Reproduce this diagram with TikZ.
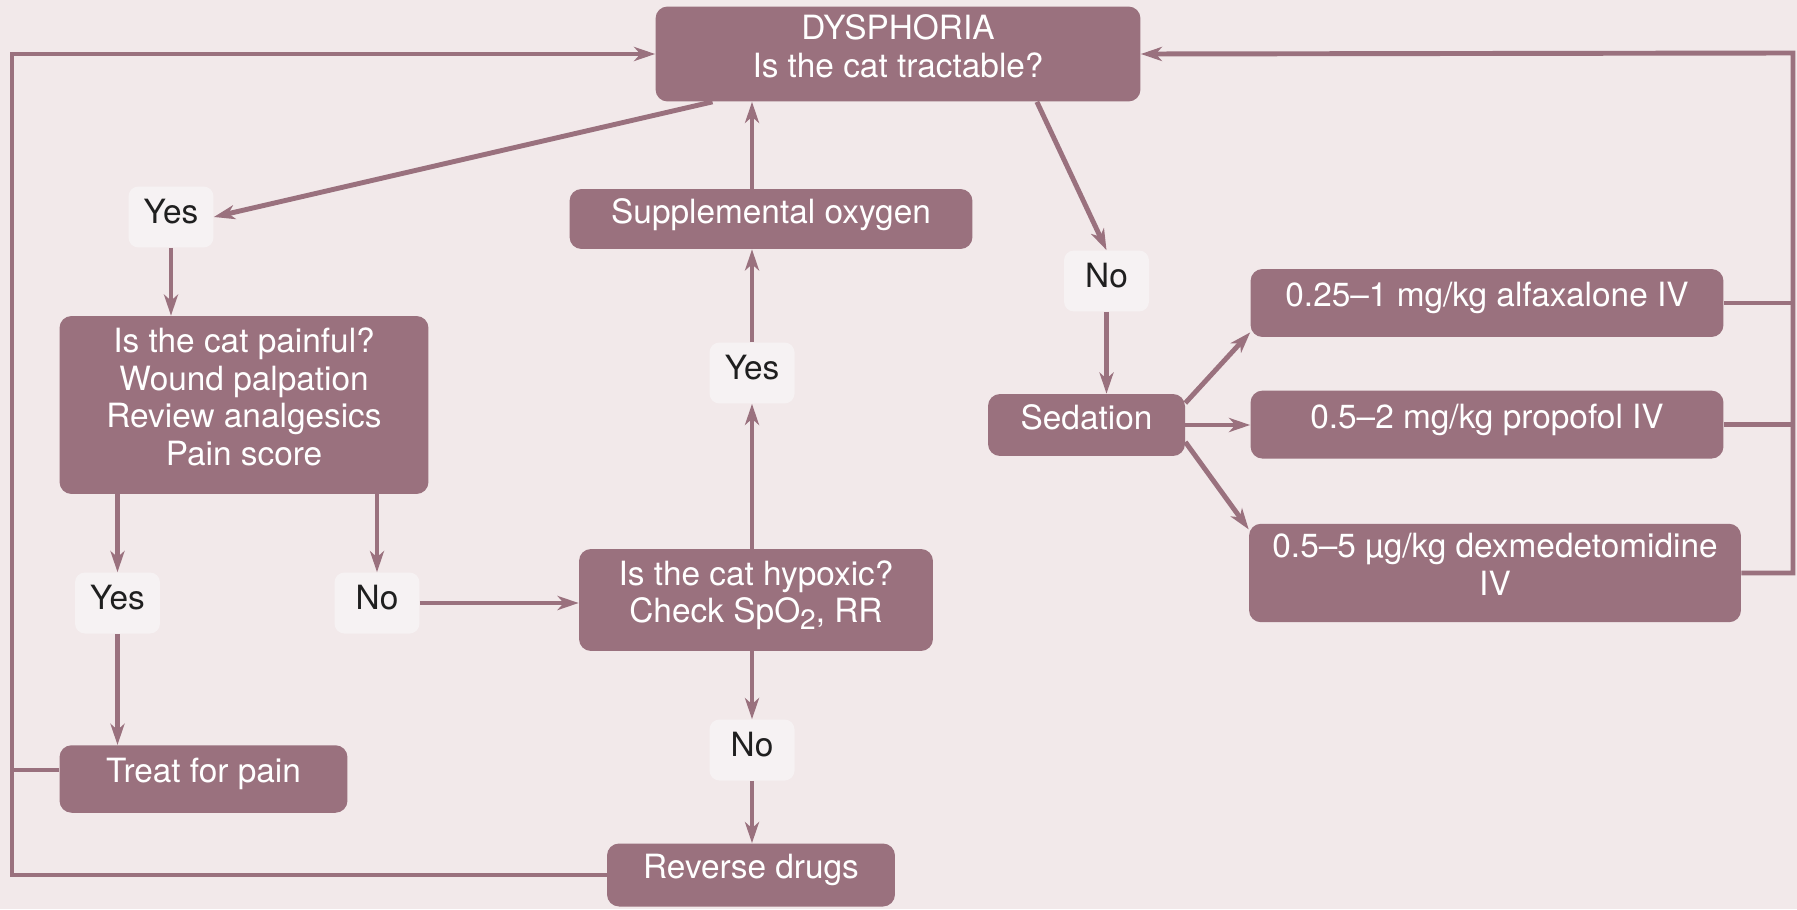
\documentclass[tikz,border=0pt]{standalone}
\usepackage{fontspec}
\setmainfont{TeX Gyre Heros}
\usetikzlibrary{arrows.meta,calc}
\definecolor{mauve}{HTML}{9A717E}
\definecolor{blush}{HTML}{F2E9EA}
\definecolor{chalk}{HTML}{F6F2F3}

\begin{document}
\begin{tikzpicture}[x=0.02cm,y=-0.02cm,
  box/.style={fill=mauve,text=white,rounded corners=0.24cm,align=center,
    inner sep=0pt,text depth=9.5pt,font=\fontsize{19}{21.5}\selectfont},
  ans/.style={fill=chalk,text=black!88,rounded corners=0.2cm,minimum width=1.7cm,
    minimum height=1.22cm,inner sep=0pt,text depth=6pt,font=\fontsize{19}{21.5}\selectfont},
  link/.style={draw=mauve,line width=2.8pt},
  arr/.style={link,-{Stealth[length=12pt,width=8pt,inset=3.5pt]}}]

\newcommand\SubTwo{\raisebox{-0.4ex}{\fontsize{16}{16}\selectfont 2}}

\fill[blush] (0,0) rectangle (1797,909);
\useasboundingbox (0,0) rectangle (1797,909);

%% main column
\node[box,minimum width=9.7cm,minimum height=1.9cm] (dys) at (898,54) {DYSPHORIA\\Is the cat tractable?};
\node[box,minimum width=8.06cm,minimum height=1.2cm] (oxy) at (771,219) {Supplemental oxygen};
\node[ans] (yesC) at (752,373) {Yes};
\node[box,minimum width=7.08cm,minimum height=2.04cm] (hyp) at (756,600) {Is the cat hypoxic?\\Check SpO\SubTwo, RR};
\node[ans] (noB) at (752,750) {No};
\node[box,minimum width=5.76cm,minimum height=1.26cm] (rev) at (751,875) {Reverse drugs};

%% left branch
\node[ans] (yesA) at (171,217) {Yes};
\node[box,minimum width=7.38cm,minimum height=3.56cm] (pain) at (244,405) {Is the cat painful?\\Wound palpation\\Review analgesics\\Pain score};
\node[ans] (yesB) at (117.5,603) {Yes};
\node[ans] (noA) at (377,603) {No};
\node[box,minimum width=5.76cm,minimum height=1.35cm] (treat) at (203.5,779) {Treat for pain};

%% right branch
\node[ans] (noC) at (1106.5,281) {No};
\node[box,minimum width=3.94cm,minimum height=1.24cm] (sed) at (1086.5,425) {Sedation};
\node[box,minimum width=9.46cm,minimum height=1.36cm] (alf) at (1487,303) {0.25–1 mg/kg alfaxalone IV};
\node[box,minimum width=9.46cm,minimum height=1.36cm] (pro) at (1487,424.6) {0.5–2 mg/kg propofol IV};
\node[box,minimum width=9.84cm,minimum height=1.97cm] (dex) at (1495,573) {0.5–5 µg/kg dexmedetomidine\\IV};

\coordinate (lftTop) at (12,54);
\coordinate (rgtTop) at (1793,53);

%% arrows
\draw[arr] ($(dys.south west)!0.118!(dys.south east)$) -- (yesA.east);
\draw[arr] ($(dys.south west)!0.786!(dys.south east)$) -- (noC.north);
\draw[arr] (oxy.north -| yesC) -- (dys.south -| yesC);
\draw[arr] (yesC.north) -- (oxy.south -| yesC);
\draw[arr] (hyp.north -| yesC) -- (yesC.south);
\draw[arr] (hyp.south -| noB) -- (noB.north);
\draw[arr] (noB.south) -- (rev.north -| noB);

\draw[arr] (yesA.south) -- (yesA.south |- pain.north);
\draw[arr] (yesB.north |- pain.south) -- (yesB.north);
\draw[arr] (noA.north |- pain.south) -- (noA.north);
\draw[arr] (yesB.south) -- (treat.north -| yesB);
\draw[arr] (noA.east) -- (noA.east -| hyp.west);

\draw[arr] (noC.south) -- (noC.south |- sed.north);
\draw[arr] ([yshift=0.44cm]sed.east) -- ([yshift=0.1cm]alf.south west);
\draw[arr] (sed.east) -- (sed.east -| pro.west);
\draw[arr] ([yshift=-0.34cm]sed.east) -- ([yshift=-0.12cm]dex.north west);

%% loops back
\draw[arr] (rev.west) -| (lftTop) -- (dys.west);
\draw[link] ([yshift=0.18cm]treat.west) -- ([yshift=0.18cm]treat.west -| lftTop);
\draw[arr] (dex.east) -| (rgtTop) -- (dys.east);
\draw[link] (alf.east) -- (alf.east -| rgtTop);
\draw[link] (pro.east) -- (pro.east -| rgtTop);

\end{tikzpicture}
\end{document}
